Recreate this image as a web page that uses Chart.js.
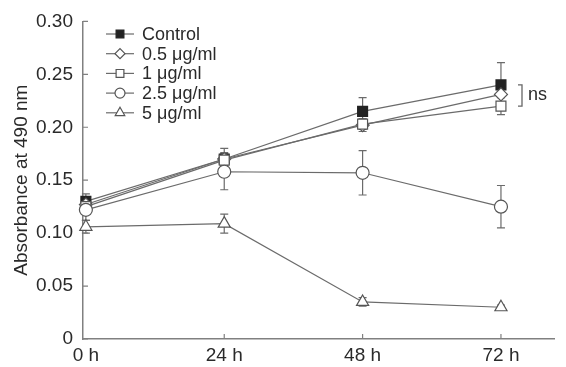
<!DOCTYPE html>
<html>
<head>
<meta charset="utf-8">
<script src="https://cdn.jsdelivr.net/npm/chart.js@4/dist/chart.umd.min.js"></script>
<style>
  html, body { margin: 0; background: #fff; }
  #wrap { width: 566px; height: 367px; }
</style>
</head>
<body>
<div id="wrap"><canvas id="chart"></canvas></div>
<script>
const hours = [0, 24, 48, 72];
const hourLabels = ["0 h", "24 h", "48 h", "72 h"];
const yTicks = [0, 0.05, 0.10, 0.15, 0.20, 0.25, 0.30];

const seriesNames = ["Control", "0.5 \u03bcg/ml", "1 \u03bcg/ml", "2.5 \u03bcg/ml", "5 \u03bcg/ml"];
const control = [0.130, 0.170, 0.215, 0.240];
const dose05 = [0.127, 0.170, 0.202, 0.231];
const dose1 = [0.125, 0.169, 0.203, 0.220];
const dose25 = [0.122, 0.158, 0.157, 0.125];
const dose5 = [0.106, 0.109, 0.035, 0.030];

const controlErr = [0.007, 0.010, 0.013, 0.021];
const dose05Err = [0.005, 0.006, 0.006, 0.008];
const dose1Err = [0.005, 0.006, 0.005, 0.008];
const dose25Err = [0.010, 0.017, 0.021, 0.020];
const dose5Err = [0.006, 0.009, 0.004, 0.002];

const lineColor = "#6b6b6b";
const axisColor = "#808080";
const fontFamily = "'Liberation Sans', Arial, sans-serif";

const makeSet = (label, values, errs, style, radius, fill) => ({
  label,
  data: hours.map((h, i) => ({ x: h, y: values[i] })),
  errors: errs,
  borderColor: lineColor,
  borderWidth: 1.2,
  pointStyle: style,
  pointRadius: radius,
  pointBackgroundColor: fill,
  pointBorderColor: fill === "#fff" ? "#555" : "#222",
  pointBorderWidth: 1.2,
  tension: 0,
  clip: false,
});

const datasets = [
  makeSet(seriesNames[4], dose5, dose5Err, "triangle", 7, "#fff"),
  makeSet(seriesNames[3], dose25, dose25Err, "circle", 6.5, "#fff"),
  makeSet(seriesNames[2], dose1, dose1Err, "rect", 7, "#fff"),
  makeSet(seriesNames[1], dose05, dose05Err, "rectRot", 6.5, "#fff"),
  makeSet(seriesNames[0], control, controlErr, "rect", 7, "#222"),
];

// error bars behind the markers
const errorBars = {
  id: "errorBars",
  beforeDatasetsDraw(chart) {
    const { ctx, scales: { x, y } } = chart;
    ctx.save();
    ctx.strokeStyle = lineColor;
    ctx.lineWidth = 1.2;
    chart.data.datasets.forEach(ds => {
      ds.data.forEach((p, i) => {
        const e = ds.errors[i];
        const px = x.getPixelForValue(p.x);
        const top = y.getPixelForValue(p.y + e);
        const bot = y.getPixelForValue(p.y - e);
        ctx.beginPath();
        ctx.moveTo(px, top); ctx.lineTo(px, bot);
        ctx.moveTo(px - 4, top); ctx.lineTo(px + 4, top);
        ctx.moveTo(px - 4, bot); ctx.lineTo(px + 4, bot);
        ctx.stroke();
      });
    });
    ctx.restore();
  }
};

// inward tick marks, legend and "ns" bracket
const extras = {
  id: "extras",
  afterDraw(chart) {
    const { ctx, chartArea: a, scales: { x, y } } = chart;
    ctx.save();
    ctx.strokeStyle = axisColor;
    ctx.lineWidth = 1.2;
    ctx.beginPath();
    yTicks.forEach(v => {
      const py = y.getPixelForValue(v);
      ctx.moveTo(a.left, py); ctx.lineTo(a.left + 5, py);
    });
    hours.slice(1).forEach(h => {
      const px = x.getPixelForValue(h);
      ctx.moveTo(px, a.bottom); ctx.lineTo(px, a.bottom - 5);
    });
    ctx.stroke();

    // legend
    const order = [4, 3, 2, 1, 0];
    ctx.font = "18px " + fontFamily;
    ctx.textBaseline = "middle";
    order.forEach((di, row) => {
      const ds = chart.data.datasets[di];
      const ly = 34 + row * 19.7;
      ctx.strokeStyle = lineColor;
      ctx.lineWidth = 1.2;
      ctx.beginPath();
      ctx.moveTo(106, ly); ctx.lineTo(134, ly);
      ctx.stroke();
      ctx.fillStyle = ds.pointBackgroundColor;
      ctx.strokeStyle = ds.pointBorderColor;
      ctx.lineWidth = ds.pointBorderWidth;
      Chart.helpers.drawPoint(ctx, {
        pointStyle: ds.pointStyle,
        radius: ds.pointRadius - 1.5,
        rotation: 0,
        borderWidth: ds.pointBorderWidth
      }, 120, ly);
      ctx.fillStyle = "#2a2a2a";
      ctx.fillText(ds.label, 142, ly + 1);
    });

    // ns bracket between control and 1 ug/ml at 72 h
    const yTop = y.getPixelForValue(control[3]);
    const yBot = y.getPixelForValue(dose1[3]);
    ctx.strokeStyle = "#666";
    ctx.lineWidth = 1.3;
    ctx.beginPath();
    ctx.moveTo(518, yTop); ctx.lineTo(522, yTop);
    ctx.lineTo(522, yBot); ctx.lineTo(518, yBot);
    ctx.stroke();
    ctx.fillStyle = "#2a2a2a";
    ctx.font = "18px " + fontFamily;
    ctx.fillText("ns", 528, (yTop + yBot) / 2);
    ctx.restore();
  }
};

new Chart(document.getElementById("chart"), {
  type: "line",
  data: { datasets },
  options: {
    responsive: true,
    maintainAspectRatio: false,
    animation: false,
    layout: { padding: { top: 19, right: 12, left: 0, bottom: 0 } },
    plugins: { legend: { display: false }, tooltip: { enabled: false } },
    scales: {
      x: {
        type: "linear",
        min: -0.5,
        max: 81.2,
        afterBuildTicks: s => { s.ticks = hours.map(v => ({ value: v })); },
        afterFit: s => { s.height = 28; },
        grid: { display: false, drawTicks: false },
        border: { color: axisColor, width: 1.5 },
        ticks: {
          padding: 5,
          color: "#2a2a2a",
          font: { family: fontFamily, size: 19 },
          callback: v => hourLabels[hours.indexOf(v)] || ""
        }
      },
      y: {
        min: 0,
        max: 0.30,
        afterBuildTicks: s => { s.ticks = yTicks.map(v => ({ value: v })); },
        afterFit: s => { s.width = 83; },
        grid: { display: false, drawTicks: false },
        border: { color: axisColor, width: 1.5 },
        title: {
          display: true,
          text: "Absorbance at 490 nm",
          color: "#2a2a2a",
          padding: { top: 10, bottom: 0 },
          font: { family: fontFamily, size: 19 }
        },
        ticks: {
          padding: 10,
          color: "#2a2a2a",
          font: { family: fontFamily, size: 19 },
          callback: v => v === 0 ? "0" : v.toFixed(2)
        }
      }
    }
  },
  plugins: [errorBars, extras]
});
</script>
</body>
</html>
